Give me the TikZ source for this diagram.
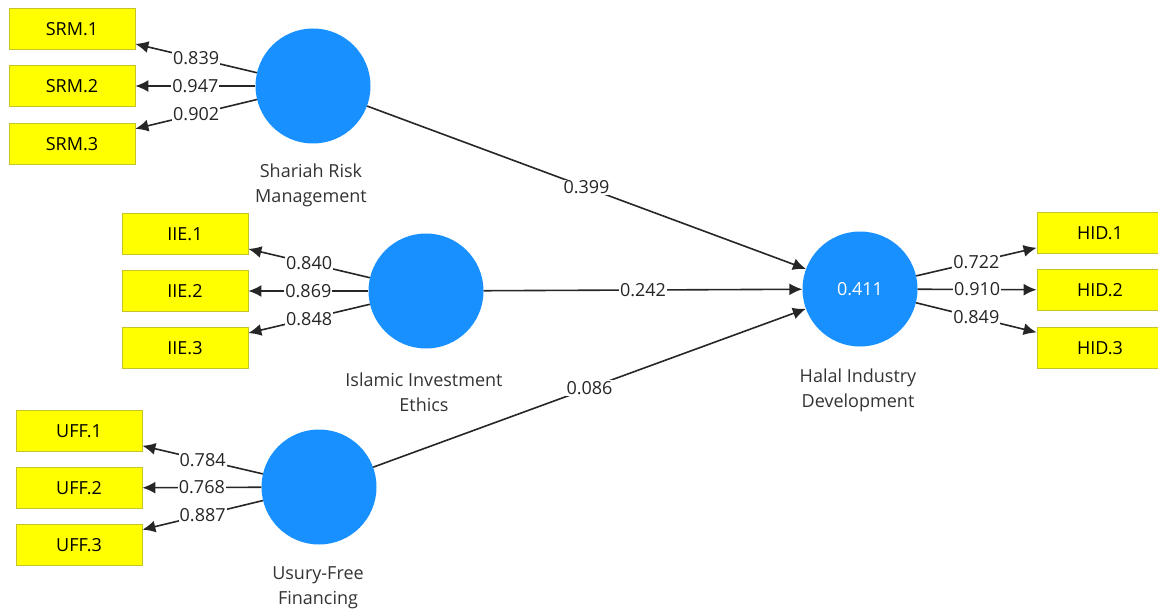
\documentclass[tikz,border=0pt]{standalone}
\usepackage{fontspec}
\setmainfont{Open Sans}
\usetikzlibrary{arrows.meta}
\definecolor{lvblue}{RGB}{24,144,255}
\definecolor{mvyellow}{RGB}{255,255,0}
\definecolor{mvedge}{RGB}{196,196,40}
\tikzset{
  latent/.style = {circle, fill=lvblue, minimum size=115pt, inner sep=0pt, text=white},
  indicator/.style = {rectangle, fill=mvyellow, draw=mvedge, line width=0.8pt, minimum width=126pt, minimum height=41pt, inner sep=0pt},
  link/.style = {draw=black!85, line width=1.6pt, -{Latex[length=13pt,width=12pt]}},
  coef/.style = {fill=white, inner sep=1pt, text=black!85},
  lvname/.style = {align=center, text=black!80}
}

\begin{document}
\begin{tikzpicture}[x=1pt, y=-1pt, font=\fontsize{18}{25}\selectfont]
\useasboundingbox (0,0) rectangle (1158,612);

\node[latent] (srm) at (313,86) {};
\node[latent] (iie) at (426,291) {};
\node[latent] (uff) at (319,487) {};
\node[latent] (hid) at (860,289) {0.411};

\node[lvname] (srmname) at (311,185) {Shariah Risk\\Management};
\node[lvname] (iiename) at (424,392) {Islamic Investment\\Ethics};
\node[lvname] (uffname) at (318,588) {Usury-Free\\Financing};
\node[lvname] (hidname) at (858,390) {Halal Industry\\Development};

\foreach \i/\y/\v in {1/29/0.839, 2/86/0.947, 3/144/0.902} {
  \node[indicator] (srm\i) at (72,\y) {SRM.\i};
  \draw[link] (srm) -- node[coef] {\v} (srm\i);
}
\foreach \i/\y/\v in {1/234/0.840, 2/291/0.869, 3/348/0.848} {
  \node[indicator] (iie\i) at (185,\y) {IIE.\i};
  \draw[link] (iie) -- node[coef] {\v} (iie\i);
}
\foreach \i/\y/\v in {1/431/0.784, 2/488/0.768, 3/545/0.887} {
  \node[indicator] (uff\i) at (79,\y) {UFF.\i};
  \draw[link] (uff) -- node[coef] {\v} (uff\i);
}
\foreach \i/\y/\v in {1/233/0.722, 2/290/0.910, 3/348/0.849} {
  \node[indicator] (hid\i) at (1100,\y) {HID.\i};
  \draw[link] (hid) -- node[coef] {\v} (hid\i);
}

\draw[link] (srm) -- node[coef] {0.399} (hid);
\draw[link] (iie) -- node[coef] {0.242} (hid);
\draw[link] (uff) -- node[coef] {0.086} (hid);
\end{tikzpicture}
\end{document}
